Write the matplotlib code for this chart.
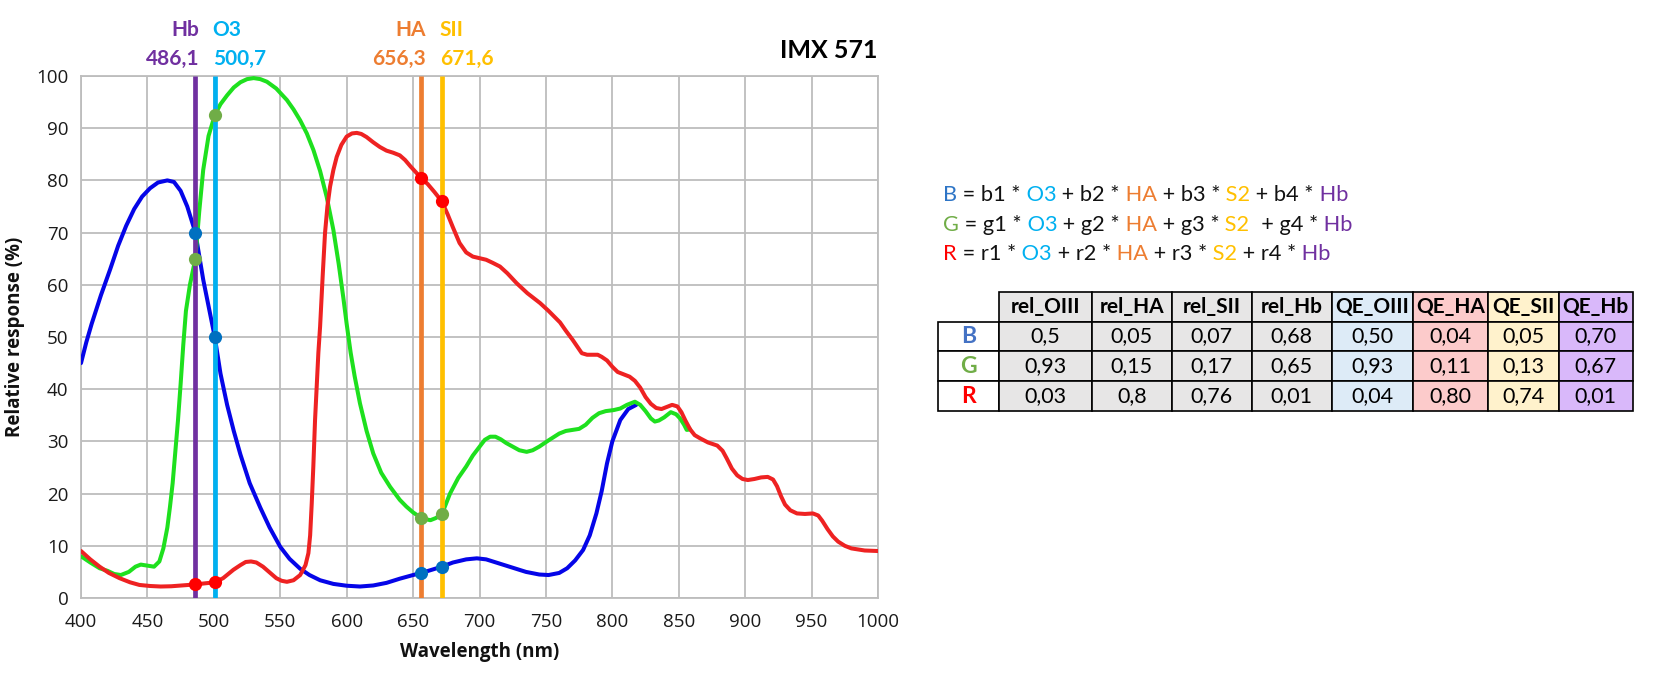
import matplotlib
matplotlib.use("Agg")
import matplotlib.pyplot as plt
from matplotlib.table import Table

# ---------------- data ----------------
blue_nm = [400, 404, 408, 415, 422, 428, 434, 440, 446, 452, 458, 465, 470, 475, 480, 486.1, 492, 500.7,
           505, 510, 515, 520, 527, 535, 542, 550, 557, 565, 572, 580, 590, 600, 610, 620, 630, 640,
           650, 656.3, 664, 671.6, 680, 690, 698, 705, 715, 725, 735, 745, 752, 760, 766, 772, 778,
           783, 788, 792, 796, 800, 806, 812, 818]
blue_val = [45, 49, 52.5, 58, 63, 67.5, 71.3, 74.5, 76.9, 78.5, 79.6, 80, 79.7, 78, 75, 70, 61, 50,
            43, 37, 32, 27.5, 22, 17.3, 13.5, 9.8, 7.5, 5.6, 4.4, 3.4, 2.7, 2.35, 2.2, 2.4, 2.9, 3.7,
            4.4, 4.8, 5.4, 6.0, 6.8, 7.4, 7.6, 7.4, 6.6, 5.8, 5.0, 4.5, 4.4, 4.8, 5.7, 7.2, 9.2,
            12, 16.2, 20.5, 25.8, 30.0, 34.1, 36.2, 37.0]

green_nm = [400, 407, 414, 420, 425, 430, 436, 441, 445, 450, 455, 459, 462, 465, 467, 469, 471, 473,
            475, 477, 479, 482, 486.1, 489, 492, 496, 500.7, 505, 510, 515, 520, 525, 530, 535, 540,
            547, 555, 560, 565, 570, 575, 580, 585, 590, 594, 597.5, 600, 603, 606, 610, 615, 620, 626,
            632.7, 640, 645, 650, 656.3, 663, 667, 671.6, 677.8, 684, 690, 695, 700.4, 704, 708, 712,
            716, 720, 725, 730, 735.5, 740, 745, 752, 760, 765, 770, 775, 780, 785, 790, 795, 801,
            806, 811, 817, 821, 825, 829, 832, 835, 839, 844, 848, 851, 854, 856, 858.6]
green_val = [8.0, 6.8, 5.7, 5.2, 4.6, 4.4, 5.0, 6.0, 6.4, 6.2, 6.0, 7.0, 9.5, 13.5, 17.5, 22, 28, 34,
             41, 48.5, 55, 60, 65, 74, 82, 88.5, 92.5, 94.6, 96.3, 97.8, 98.8, 99.4, 99.6, 99.4, 98.9,
             97.6, 95.4, 93.6, 91.5, 89.0, 85.8, 81.8, 76.8, 70.5, 64, 57.5, 52.5, 47, 42.5, 37.3, 32, 27.7, 24,
             21.3, 18.8, 17.5, 16.4, 15.3, 14.9, 15.3, 16.0, 20, 23, 25.2, 27.3, 29.1, 30.3, 30.9, 30.9,
             30.4, 29.7, 29.0, 28.3, 28.0, 28.3, 29.0, 30.2, 31.5, 32.0, 32.2, 32.4, 33.2, 34.5, 35.4, 35.8, 36.0,
             36.3, 37.0, 37.6, 37.0, 35.8, 34.4, 33.8, 34.0, 34.6, 35.6, 35.2, 34.4, 33.2, 32.2, 32.3]

red_nm = [400, 407, 414, 421, 429, 437, 444, 452, 460, 468, 476, 486.1, 493, 500.7, 507, 514.7, 520,
          524, 528, 532, 537, 542, 547, 551, 555, 560, 565, 569, 571.2, 572.5, 573.7, 574.9, 576.2,
          577.5, 578.7, 580, 582, 583.7, 585.5, 587.5, 590, 592.5, 596, 600, 604, 607.6, 611, 615, 620,
          625, 630, 635, 640, 644, 648, 652, 656.3, 661, 666, 671.6, 676, 680, 685, 690, 695, 700, 705,
          710, 715.4, 721, 728, 736, 745.6, 752, 760.6, 765, 770, 774, 777, 781, 785, 789, 792, 796,
          800, 804, 808, 813, 817, 821, 825, 829, 833, 837, 841, 845, 849, 852, 855, 858.6, 862, 866,
          872, 879, 883, 886, 890, 894, 898, 902, 907, 912, 917, 921, 924, 927, 930, 934, 939, 945,
          951, 955, 958, 962, 966, 970, 975, 980, 990, 1000]
red_val = [9.0, 7.4, 6.0, 4.8, 3.8, 3.0, 2.5, 2.3, 2.2, 2.25, 2.4, 2.6, 2.8, 3.0, 3.8, 5.4, 6.3,
           6.9, 7.0, 6.8, 6.0, 4.9, 3.8, 3.3, 3.1, 3.4, 4.4, 6.3, 8.6, 12, 18.1, 25.2, 34.1,
           41, 47, 52, 62, 69.9, 75, 78.8, 82, 84.5, 86.8, 88.4, 89.0, 89.1, 88.9, 88.3, 87.3,
           86.4, 85.7, 85.3, 84.8, 83.9, 82.7, 81.6, 80.4, 79.3, 77.8, 76.0, 73.5, 71.0, 68.0, 66.2, 65.4, 65.1, 64.8,
           64.2, 63.5, 62.2, 60.3, 58.4, 56.5, 55, 52.8, 51.2, 49.5, 48, 46.9, 46.6, 46.6, 46.6, 46.2, 45.5,
           44.3, 43.3, 42.9, 42.4, 41.6, 40.3, 38.5, 37.2, 36.4, 36.2, 36.6, 37.0, 36.7, 35.6, 34.0, 32.3, 31.2, 30.6,
           29.8, 29.2, 28.2, 26.8, 24.8, 23.5, 22.8, 22.6, 22.8, 23.1, 23.2, 22.7, 21.4, 19.5, 17.9, 16.8, 16.2, 16.1,
           16.2, 15.8, 14.8, 13.2, 11.8, 10.8, 10.0, 9.5, 9.1, 9.0]

# emission lines
line_names = ["Hb", "O3", "HA", "SII"]
line_nm = [486.1, 500.7, 656.3, 671.6]
line_labels = ["486,1", "500,7", "656,3", "671,6"]
line_colors = ["#7030A0", "#00B0F0", "#ED7D31", "#FFC000"]
line_label_side = ["right", "left", "right", "left"]

# curve responses at emission lines
blue_at = [70, 50, 4.8, 6.0]
green_at = [65, 92.5, 15.4, 16.0]
red_at = [2.6, 3.0, 80.4, 76.0]

# table
table_cols = ["rel_OIII", "rel_HA", "rel_SII", "rel_Hb", "QE_OIII", "QE_HA", "QE_SII", "QE_Hb"]
table_rows = ["B", "G", "R"]
rel_values = [[0.5, 0.05, 0.07, 0.68],
              [0.93, 0.15, 0.17, 0.65],
              [0.03, 0.8, 0.76, 0.01]]
qe_values = [[0.50, 0.04, 0.05, 0.70],
             [0.93, 0.11, 0.13, 0.67],
             [0.04, 0.80, 0.74, 0.01]]

# ---------------- style ----------------
C_BLUE = "#0505E8"
C_GREEN = "#1EE01E"
C_RED = "#EE2222"
C_DOT_B = "#0070C0"
C_DOT_G = "#70AD47"
C_DOT_R = "#FF0000"
GRID = "#BDBDBD"

plt.rcParams["font.family"] = ["Open Sans", "DejaVu Sans"]

W, H = 1662, 690
fig = plt.figure(figsize=(W / 100, H / 100), dpi=100)
ax = fig.add_axes([81 / W, (H - 598) / H, (878 - 81) / W, (598 - 76) / H])

ax.set_xlim(400, 1000)
ax.set_ylim(0, 100)
ax.set_xticks(range(400, 1001, 50))
ax.set_yticks(range(0, 101, 10))
ax.grid(True, color=GRID, lw=1.3, zorder=0)
ax.set_axisbelow(True)
for sp in ax.spines.values():
    sp.set_color(GRID)
    sp.set_linewidth(1.3)
ax.tick_params(length=0, labelsize=13.5, colors="#1a1a1a")
ax.tick_params(axis="x", pad=11)
ax.tick_params(axis="y", pad=9)
ax.set_xlabel("Wavelength (nm)", fontsize=13.5, fontweight="bold", labelpad=8, color="#111111")
ax.set_ylabel("Relative response (%)", fontsize=13.5, fontweight="bold", labelpad=8, color="#111111")

lw = 2.9
kw = dict(solid_joinstyle="round", solid_capstyle="round")
ax.plot(blue_nm, blue_val, color=C_BLUE, lw=lw, zorder=3, **kw)
ax.plot(green_nm, green_val, color=C_GREEN, lw=lw, zorder=4, **kw)
ax.plot(red_nm, red_val, color=C_RED, lw=lw, zorder=5, **kw)

ax.vlines(line_nm, 0, 100, colors=line_colors, lw=3.4, zorder=6)

ms = 9.5
ax.plot(line_nm, blue_at, "o", color=C_DOT_B, ms=ms, mew=0, zorder=7)
ax.plot(line_nm, green_at, "o", color=C_DOT_G, ms=ms, mew=0, zorder=7)
ax.plot(line_nm, red_at, "o", color=C_DOT_R, ms=ms, mew=0, zorder=7)

for name, nm, lab, col, side in zip(line_names, line_nm, line_labels, line_colors, line_label_side):
    dx = 3 if side == "right" else -1.5
    for txt, dy in ((name, 33), (lab, 12)):
        ax.annotate(txt, xy=(nm, 1.0), xycoords=("data", "axes fraction"),
                    xytext=(dx, dy), textcoords="offset points", ha=side, va="center",
                    fontsize=15, fontweight="bold", color=col, family="Lato",
                    annotation_clip=False)

ax.annotate("IMX 571", xy=(1.0, 1.0), xycoords="axes fraction", xytext=(0, 18),
            textcoords="offset points", ha="right", va="center", fontsize=18,
            fontweight="bold", color="black", family="Lato", annotation_clip=False)

# ---------------- formulas ----------------
K = "#111111"
formula_rows = [
    [("B", "#2E75C6"), (" = b1 *", K), (" O3", "#00B0F0"), (" + b2 *", K), (" HA", "#ED7D31"),
     (" + b3 *", K), (" S2", "#FFC000"), (" + b4 *", K), (" Hb", "#7030A0")],
    [("G", "#70AD47"), (" = g1 *", K), (" O3", "#00B0F0"), (" + g2 *", K), (" HA", "#ED7D31"),
     (" + g3 *", K), (" S2", "#FFC000"), ("  + g4 *", K), (" Hb", "#7030A0")],
    [("R", "#FF0000"), (" = r1 *", K), (" O3", "#00B0F0"), (" + r2 *", K), (" HA", "#ED7D31"),
     (" + r3 *", K), (" S2", "#FFC000"), (" + r4 *", K), (" Hb", "#7030A0")],
]
row_y = [195, 225, 254]
FF = 15.7
for pieces, yp in zip(formula_rows, row_y):
    prev = None
    for txt, col in pieces:
        if prev is None:
            prev = ax.annotate(txt, xy=(943 / W, 1 - yp / H), xycoords="figure fraction",
                               ha="left", va="center", fontsize=FF, color=col,
                               family="Lato", annotation_clip=False)
        else:
            prev = ax.annotate(txt, xy=(1, 0), xycoords=prev, ha="left", va="bottom",
                               fontsize=FF, color=col, family="Lato", annotation_clip=False)

# ---------------- table ----------------
tx0, tx1, ty0, ty1 = 938.3, 1632.7, 291.7, 411
tax = fig.add_axes([tx0 / W, (H - ty1) / H, (tx1 - tx0) / W, (ty1 - ty0) / H])
tax.axis("off")
col_w = [61, 92.4, 80, 80, 80, 81, 75.6, 70.7, 73.7]
col_bg = ["#E7E6E6"] * 4 + ["#DDEBF7", "#FCCBCB", "#FFF2CC", "#D9B8FA"]
row_label_colors = ["#4472C4", "#70AD47", "#FF0000"]
tbl = Table(tax, bbox=[0, 0, 1, 1])
tbl.auto_set_font_size(False)
rh = 1.0
FS = 15.5
for j, name in enumerate(table_cols):
    c = tbl.add_cell(0, j + 1, width=col_w[j + 1], height=rh, text=name, loc="center",
                     facecolor=col_bg[j], edgecolor="black")
    c.get_text().set(fontsize=15, fontweight="bold", family="Lato", color="black")
    c.set_linewidth(1.2)
for i, rname in enumerate(table_rows):
    c = tbl.add_cell(i + 1, 0, width=col_w[0], height=rh, text=rname, loc="center",
                     facecolor="white", edgecolor="black")
    c.get_text().set(fontsize=16.5, fontweight="bold", family="Lato", color=row_label_colors[i])
    c.set_linewidth(1.2)
    vals = [str(v).replace(".", ",") for v in rel_values[i]] + \
           [f"{v:.2f}".replace(".", ",") for v in qe_values[i]]
    for j, s in enumerate(vals):
        c = tbl.add_cell(i + 1, j + 1, width=col_w[j + 1], height=rh, text=s, loc="center",
                         facecolor=col_bg[j], edgecolor="black")
        c.get_text().set(fontsize=FS, family="Lato", color="black")
        c.set_linewidth(1.2)
tax.add_table(tbl)

fig.savefig("out.png", dpi=100, facecolor="white")
